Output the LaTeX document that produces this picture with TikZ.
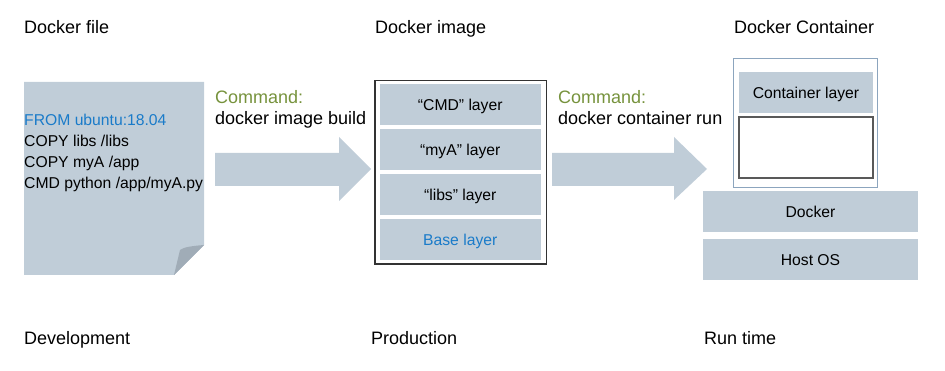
\documentclass[tikz,border=0pt]{standalone}
\usepackage{fontspec}
\setmainfont{Liberation Sans}
\begin{document}
\definecolor{layerfill}{RGB}{192,205,216}
\definecolor{folddark}{RGB}{160,172,183}
\definecolor{cmdgreen}{RGB}{118,146,60}
\definecolor{baseblue}{RGB}{26,123,201}
\definecolor{frameblue}{RGB}{140,165,190}
\begin{tikzpicture}[x=1pt,y=-1pt,
  every node/.style={font=\fontsize{15.7}{19}\selectfont, inner sep=0pt, text=black},
  lbl/.style={anchor=base west},
  big/.style={font=\fontsize{18}{22}\selectfont},
  inlayer/.style={text height=11.2pt, text depth=0pt},
  layer/.style={fill=layerfill, draw=none},
  bigarrow/.style={fill=layerfill, draw=none}]
\useasboundingbox (0,0) rectangle (945,371);

% column titles
\node[lbl, big] (tfile) at (24,33.5) {Docker file};
\node[lbl, big] (timage) at (375,33.5) {Docker image};
\node[lbl, big] (tcont) at (734,33.5) {Docker Container};

% Dockerfile page with folded corner
\fill[layerfill] (24,82) -- (204,82) -- (204,245) -- (174,275) -- (24,275) -- cycle;
\fill[folddark] (204,245) .. controls (192,246) and (184,247) .. (180,250) -- (174,275) -- cycle;
\node[lbl, text=baseblue] (l1) at (24,126) {FROM ubuntu:18.04};
\node[lbl] (l2) at (24,147) {COPY libs /libs};
\node[lbl] (l3) at (24,168) {COPY myA /app};
\node[lbl] (l4) at (24,189) {CMD python /app/myA.py};

% build arrow
\fill[bigarrow] (215,153) -- (339,153) -- (339,137) -- (371,169) -- (339,201) -- (339,186) -- (215,186) -- cycle;
\node[lbl, big, text=cmdgreen] (c1a) at (215,104) {Command:};
\node[lbl, big] (c1b) at (215,125) {docker image build};

% image with its layers
\draw[line width=1.2pt, draw=black!80] (375,80.5) rectangle (546.5,264);
\fill[layer] (379.5,84.5) rectangle (541,125) node[midway, inlayer] (cmd) {“CMD” layer};
\fill[layer] (379.5,129.5) rectangle (541,170) node[midway, inlayer] (mya) {“myA” layer};
\fill[layer] (379.5,174.5) rectangle (541,215) node[midway, inlayer] (libs) {“libs” layer};
\fill[layer] (379.5,219.5) rectangle (541,260) node[midway, inlayer, text=baseblue] (base) {Base layer};

% run arrow
\fill[bigarrow] (552,153) -- (674,153) -- (674,137) -- (707,169) -- (674,200) -- (674,186) -- (552,186) -- cycle;
\node[lbl, big, text=cmdgreen] (c2a) at (558,104) {Command:};
\node[lbl, big] (c2b) at (558,125) {docker container run};

% running container on the host
\draw[line width=0.9pt, draw=frameblue] (733.5,58) rectangle (877.5,187);
\fill[layer] (739,72) rectangle (873,113) node[midway, inlayer] (clayer) {Container layer};
\draw[line width=1.2pt, draw=black!65, fill=white] (739,117) rectangle (873,178);
\fill[layer] (703,191) rectangle (918,232) node[midway, inlayer] (docker) {Docker};
\fill[layer] (703,239) rectangle (918,280) node[midway, inlayer] (host) {Host OS};

% stage labels
\node[lbl, big] (dev) at (24,344.5) {Development};
\node[lbl, big] (prod) at (371,344.5) {Production};
\node[lbl, big] (rt) at (704,344.5) {Run time};
\end{tikzpicture}
\end{document}
